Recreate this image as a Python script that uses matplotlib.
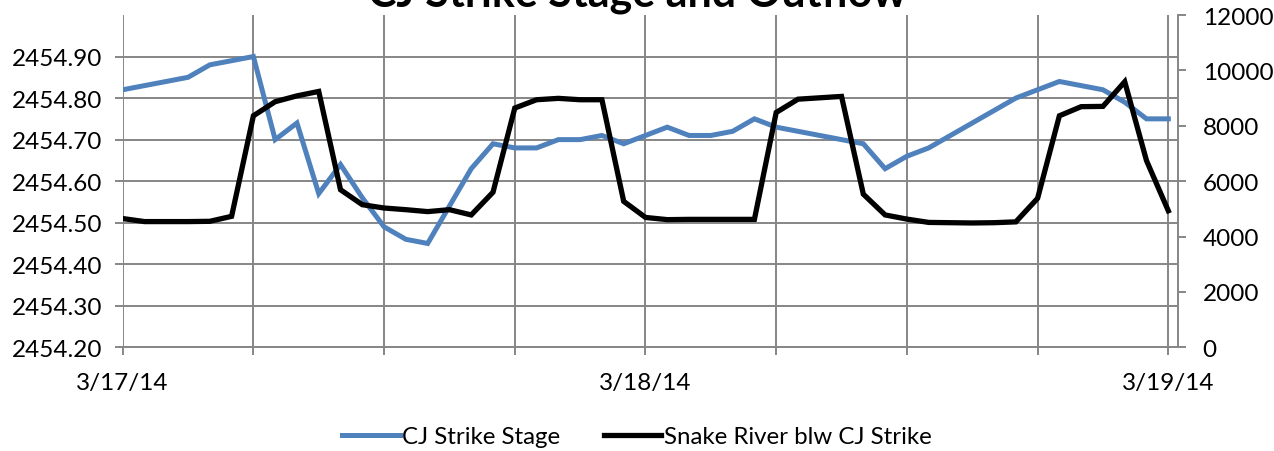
import matplotlib
matplotlib.use("Agg")
import matplotlib.pyplot as plt
import matplotlib.dates as mdates
import pandas as pd

plt.rcParams['font.family'] = ['Lato', 'DejaVu Sans']

# hourly readings, 3/17/14 00:00 .. 3/19/14 00:00
times = pd.date_range("2014-03-17 00:00", "2014-03-19 00:00", freq="h")

stage = [2454.82, 2454.83, 2454.84, 2454.85, 2454.88, 2454.89, 2454.90, 2454.70,
         2454.74, 2454.57, 2454.64, 2454.56, 2454.49, 2454.46, 2454.45, 2454.54,
         2454.63, 2454.69, 2454.68, 2454.68, 2454.70, 2454.70, 2454.71, 2454.69,
         2454.71, 2454.73, 2454.71, 2454.71, 2454.72, 2454.75, 2454.73, 2454.72,
         2454.71, 2454.70, 2454.69, 2454.63, 2454.66, 2454.68, 2454.71, 2454.74,
         2454.77, 2454.80, 2454.82, 2454.84, 2454.83, 2454.82, 2454.79, 2454.75,
         2454.75]

outflow = [4650, 4540, 4540, 4540, 4550, 4730, 8360, 8870,
           9080, 9240, 5690, 5150, 5030, 4970, 4900, 4970,
           4780, 5600, 8640, 8940, 8990, 8940, 8940, 5270,
           4690, 4610, 4620, 4620, 4620, 4620, 8480, 8960,
           9010, 9060, 5530, 4780, 4630, 4510, 4500, 4490,
           4500, 4530, 5380, 8360, 8690, 8700, 9590, 6740,
           4930]

stage_ticks = [2454.20, 2454.30, 2454.40, 2454.50, 2454.60, 2454.70, 2454.80, 2454.90]
flow_ticks = [0, 2000, 4000, 6000, 8000, 10000, 12000]

grid_c = '#868686'
fig = plt.figure(figsize=(12.74, 4.52), dpi=100)
ax = fig.add_axes([0.0963, 0.2294, 0.8286, 0.7352])
ax2 = ax.twinx()

l1, = ax.plot(times, stage, color='#4F81BD', lw=3.6, solid_joinstyle='miter', label='CJ Strike Stage')
l2, = ax2.plot(times, outflow, color='black', lw=3.8, solid_joinstyle='miter', label='Snake River blw CJ Strike')

start = times[0]
ax.set_xlim(start, start + pd.Timedelta(hours=48.46))
ax.set_ylim(2454.20, 2455.00)
ax2.set_ylim(0, 12000)

ax.set_yticks(stage_ticks)
ax.set_yticklabels([f"{v:.2f}" for v in stage_ticks])
ax2.set_yticks(flow_ticks)

ax.xaxis.set_major_locator(mdates.HourLocator(byhour=[0]))
ax.xaxis.set_major_formatter(mdates.DateFormatter('%-m/%d/%y'))
ax.xaxis.set_minor_locator(mdates.HourLocator(byhour=[6, 12, 18]))

ax.grid(True, which='both', color=grid_c, lw=1.4)
ax.set_axisbelow(True)

for a in (ax, ax2):
    for s in a.spines.values():
        s.set_visible(False)
ax.spines['bottom'].set_visible(True)
ax.spines['bottom'].set_color(grid_c)
ax.spines['bottom'].set_linewidth(1.4)
ax2.spines['right'].set_visible(True)
ax2.spines['right'].set_color(grid_c)
ax2.spines['right'].set_linewidth(1.4)

ax.tick_params(axis='y', length=5.5, width=1.4, color=grid_c, labelsize=17.5, pad=9)
ax.tick_params(axis='x', which='both', length=6, width=1.4, color=grid_c, labelsize=17.5, pad=12)
ax2.tick_params(axis='y', length=5.5, width=1.4, color=grid_c, labelsize=17.5, pad=12)

fig.text(0.5, 1 - 7 / 452, 'CJ Strike Stage and Outflow', ha='center', va='baseline',
         fontsize=31, fontweight='bold')

fig.legend(handles=[l1, l2], loc='center', bbox_to_anchor=(0.5, 1 - 438 / 452), ncol=2,
           frameon=False, fontsize=17.3, handlelength=2.4, handletextpad=0.1, columnspacing=1.8)

fig.savefig('out.png', dpi=100)
